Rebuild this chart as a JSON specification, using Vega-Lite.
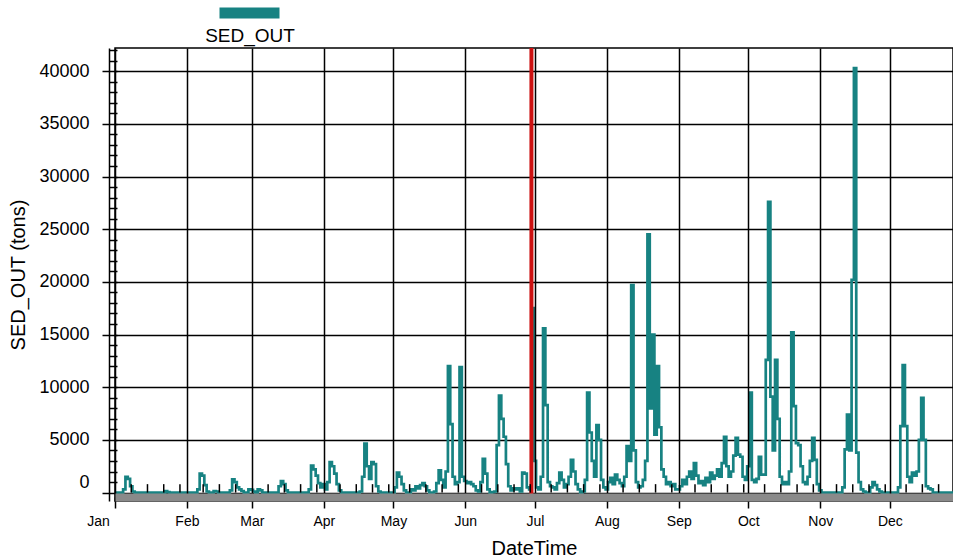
{
  "$schema": "https://vega.github.io/schema/vega-lite/v6.json",
  "width": 838,
  "height": 453,
  "autosize": {"type": "none"},
  "padding": {"left": 115, "top": 48, "right": 0, "bottom": 57},
  "background": "white",
  "config": {
    "view": {"stroke": "#000", "strokeWidth": 1.5},
    "font": "Liberation Sans"
  },
  "datasets": {
    "sed": [
      {"d":"2001-01-01","v":0},{"d":"2001-01-02","v":0},{"d":"2001-01-03","v":0},{"d":"2001-01-04","v":0},{"d":"2001-01-05","v":300},{"d":"2001-01-06","v":1500},{"d":"2001-01-07","v":1300},{"d":"2001-01-08","v":600},{"d":"2001-01-09","v":100},{"d":"2001-01-10","v":0},{"d":"2001-01-11","v":0},{"d":"2001-01-12","v":0},{"d":"2001-01-13","v":0},{"d":"2001-01-14","v":0},{"d":"2001-01-15","v":0},{"d":"2001-01-16","v":0},{"d":"2001-01-17","v":0},{"d":"2001-01-18","v":0},{"d":"2001-01-19","v":0},{"d":"2001-01-20","v":0},{"d":"2001-01-21","v":0},{"d":"2001-01-22","v":0},{"d":"2001-01-23","v":150},{"d":"2001-01-24","v":50},{"d":"2001-01-25","v":0},{"d":"2001-01-26","v":0},{"d":"2001-01-27","v":0},{"d":"2001-01-28","v":0},{"d":"2001-01-29","v":0},{"d":"2001-01-30","v":0},{"d":"2001-01-31","v":0},
      {"d":"2001-02-01","v":0},{"d":"2001-02-02","v":0},{"d":"2001-02-03","v":0},{"d":"2001-02-04","v":0},{"d":"2001-02-05","v":0},{"d":"2001-02-06","v":300},{"d":"2001-02-07","v":1800},{"d":"2001-02-08","v":1600},{"d":"2001-02-09","v":700},{"d":"2001-02-10","v":100},{"d":"2001-02-11","v":0},{"d":"2001-02-12","v":0},{"d":"2001-02-13","v":150},{"d":"2001-02-14","v":100},{"d":"2001-02-15","v":0},{"d":"2001-02-16","v":0},{"d":"2001-02-17","v":0},{"d":"2001-02-18","v":0},{"d":"2001-02-19","v":0},{"d":"2001-02-20","v":200},{"d":"2001-02-21","v":1250},{"d":"2001-02-22","v":1000},{"d":"2001-02-23","v":500},{"d":"2001-02-24","v":300},{"d":"2001-02-25","v":150},{"d":"2001-02-26","v":0},{"d":"2001-02-27","v":0},{"d":"2001-02-28","v":300},
      {"d":"2001-03-01","v":250},{"d":"2001-03-02","v":100},{"d":"2001-03-03","v":0},{"d":"2001-03-04","v":300},{"d":"2001-03-05","v":200},{"d":"2001-03-06","v":0},{"d":"2001-03-07","v":0},{"d":"2001-03-08","v":0},{"d":"2001-03-09","v":0},{"d":"2001-03-10","v":0},{"d":"2001-03-11","v":0},{"d":"2001-03-12","v":0},{"d":"2001-03-13","v":600},{"d":"2001-03-14","v":1100},{"d":"2001-03-15","v":800},{"d":"2001-03-16","v":200},{"d":"2001-03-17","v":0},{"d":"2001-03-18","v":0},{"d":"2001-03-19","v":0},{"d":"2001-03-20","v":0},{"d":"2001-03-21","v":0},{"d":"2001-03-22","v":0},{"d":"2001-03-23","v":0},{"d":"2001-03-24","v":0},{"d":"2001-03-25","v":0},{"d":"2001-03-26","v":300},{"d":"2001-03-27","v":2550},{"d":"2001-03-28","v":2200},{"d":"2001-03-29","v":1600},{"d":"2001-03-30","v":900},{"d":"2001-03-31","v":500},
      {"d":"2001-04-01","v":800},{"d":"2001-04-02","v":300},{"d":"2001-04-03","v":1000},{"d":"2001-04-04","v":2900},{"d":"2001-04-05","v":2500},{"d":"2001-04-06","v":1800},{"d":"2001-04-07","v":800},{"d":"2001-04-08","v":200},{"d":"2001-04-09","v":0},{"d":"2001-04-10","v":0},{"d":"2001-04-11","v":0},{"d":"2001-04-12","v":0},{"d":"2001-04-13","v":0},{"d":"2001-04-14","v":0},{"d":"2001-04-15","v":0},{"d":"2001-04-16","v":0},{"d":"2001-04-17","v":100},{"d":"2001-04-18","v":1500},{"d":"2001-04-19","v":4650},{"d":"2001-04-20","v":2500},{"d":"2001-04-21","v":1300},{"d":"2001-04-22","v":2900},{"d":"2001-04-23","v":2700},{"d":"2001-04-24","v":600},{"d":"2001-04-25","v":100},{"d":"2001-04-26","v":0},{"d":"2001-04-27","v":0},{"d":"2001-04-28","v":0},{"d":"2001-04-29","v":0},{"d":"2001-04-30","v":0},
      {"d":"2001-05-01","v":0},{"d":"2001-05-02","v":500},{"d":"2001-05-03","v":1900},{"d":"2001-05-04","v":1500},{"d":"2001-05-05","v":800},{"d":"2001-05-06","v":200},{"d":"2001-05-07","v":0},{"d":"2001-05-08","v":0},{"d":"2001-05-09","v":300},{"d":"2001-05-10","v":200},{"d":"2001-05-11","v":600},{"d":"2001-05-12","v":400},{"d":"2001-05-13","v":700},{"d":"2001-05-14","v":900},{"d":"2001-05-15","v":600},{"d":"2001-05-16","v":200},{"d":"2001-05-17","v":0},{"d":"2001-05-18","v":0},{"d":"2001-05-19","v":100},{"d":"2001-05-20","v":900},{"d":"2001-05-21","v":2100},{"d":"2001-05-22","v":1200},{"d":"2001-05-23","v":500},{"d":"2001-05-24","v":2000},{"d":"2001-05-25","v":12000},{"d":"2001-05-26","v":6500},{"d":"2001-05-27","v":1500},{"d":"2001-05-28","v":800},{"d":"2001-05-29","v":1000},{"d":"2001-05-30","v":11900},{"d":"2001-05-31","v":1500},
      {"d":"2001-06-01","v":1100},{"d":"2001-06-02","v":900},{"d":"2001-06-03","v":1000},{"d":"2001-06-04","v":800},{"d":"2001-06-05","v":600},{"d":"2001-06-06","v":200},{"d":"2001-06-07","v":100},{"d":"2001-06-08","v":1000},{"d":"2001-06-09","v":3200},{"d":"2001-06-10","v":1800},{"d":"2001-06-11","v":300},{"d":"2001-06-12","v":0},{"d":"2001-06-13","v":50},{"d":"2001-06-14","v":100},{"d":"2001-06-15","v":4500},{"d":"2001-06-16","v":9200},{"d":"2001-06-17","v":7000},{"d":"2001-06-18","v":5300},{"d":"2001-06-19","v":2700},{"d":"2001-06-20","v":600},{"d":"2001-06-21","v":200},{"d":"2001-06-22","v":400},{"d":"2001-06-23","v":300},{"d":"2001-06-24","v":400},{"d":"2001-06-25","v":100},{"d":"2001-06-26","v":1900},{"d":"2001-06-27","v":1800},{"d":"2001-06-28","v":500},{"d":"2001-06-29","v":300},{"d":"2001-06-30","v":17500},
      {"d":"2001-07-01","v":3000},{"d":"2001-07-02","v":500},{"d":"2001-07-03","v":300},{"d":"2001-07-04","v":1500},{"d":"2001-07-05","v":15600},{"d":"2001-07-06","v":8300},{"d":"2001-07-07","v":1000},{"d":"2001-07-08","v":600},{"d":"2001-07-09","v":500},{"d":"2001-07-10","v":300},{"d":"2001-07-11","v":900},{"d":"2001-07-12","v":1900},{"d":"2001-07-13","v":1200},{"d":"2001-07-14","v":500},{"d":"2001-07-15","v":800},{"d":"2001-07-16","v":1500},{"d":"2001-07-17","v":3100},{"d":"2001-07-18","v":2000},{"d":"2001-07-19","v":800},{"d":"2001-07-20","v":300},{"d":"2001-07-21","v":0},{"d":"2001-07-22","v":100},{"d":"2001-07-23","v":1200},{"d":"2001-07-24","v":9500},{"d":"2001-07-25","v":5700},{"d":"2001-07-26","v":3000},{"d":"2001-07-27","v":1500},{"d":"2001-07-28","v":6400},{"d":"2001-07-29","v":5000},{"d":"2001-07-30","v":1200},{"d":"2001-07-31","v":500},
      {"d":"2001-08-01","v":300},{"d":"2001-08-02","v":1000},{"d":"2001-08-03","v":1400},{"d":"2001-08-04","v":800},{"d":"2001-08-05","v":1700},{"d":"2001-08-06","v":1200},{"d":"2001-08-07","v":900},{"d":"2001-08-08","v":600},{"d":"2001-08-09","v":1500},{"d":"2001-08-10","v":4400},{"d":"2001-08-11","v":3000},{"d":"2001-08-12","v":19700},{"d":"2001-08-13","v":4000},{"d":"2001-08-14","v":1000},{"d":"2001-08-15","v":500},{"d":"2001-08-16","v":600},{"d":"2001-08-17","v":1200},{"d":"2001-08-18","v":3000},{"d":"2001-08-19","v":24500},{"d":"2001-08-20","v":8000},{"d":"2001-08-21","v":15000},{"d":"2001-08-22","v":5500},{"d":"2001-08-23","v":12000},{"d":"2001-08-24","v":6200},{"d":"2001-08-25","v":2200},{"d":"2001-08-26","v":1500},{"d":"2001-08-27","v":800},{"d":"2001-08-28","v":1000},{"d":"2001-08-29","v":600},{"d":"2001-08-30","v":800},{"d":"2001-08-31","v":300},
      {"d":"2001-09-01","v":300},{"d":"2001-09-02","v":600},{"d":"2001-09-03","v":1200},{"d":"2001-09-04","v":800},{"d":"2001-09-05","v":1500},{"d":"2001-09-06","v":2000},{"d":"2001-09-07","v":1300},{"d":"2001-09-08","v":2800},{"d":"2001-09-09","v":1600},{"d":"2001-09-10","v":900},{"d":"2001-09-11","v":1100},{"d":"2001-09-12","v":700},{"d":"2001-09-13","v":1400},{"d":"2001-09-14","v":1000},{"d":"2001-09-15","v":1900},{"d":"2001-09-16","v":1300},{"d":"2001-09-17","v":1600},{"d":"2001-09-18","v":2200},{"d":"2001-09-19","v":1500},{"d":"2001-09-20","v":2800},{"d":"2001-09-21","v":5300},{"d":"2001-09-22","v":2500},{"d":"2001-09-23","v":1500},{"d":"2001-09-24","v":2000},{"d":"2001-09-25","v":3500},{"d":"2001-09-26","v":5200},{"d":"2001-09-27","v":3600},{"d":"2001-09-28","v":3400},{"d":"2001-09-29","v":1500},{"d":"2001-09-30","v":1200},
      {"d":"2001-10-01","v":2500},{"d":"2001-10-02","v":9500},{"d":"2001-10-03","v":1200},{"d":"2001-10-04","v":1000},{"d":"2001-10-05","v":1300},{"d":"2001-10-06","v":3400},{"d":"2001-10-07","v":1700},{"d":"2001-10-08","v":1700},{"d":"2001-10-09","v":12600},{"d":"2001-10-10","v":27600},{"d":"2001-10-11","v":9100},{"d":"2001-10-12","v":4000},{"d":"2001-10-13","v":12600},{"d":"2001-10-14","v":7000},{"d":"2001-10-15","v":1500},{"d":"2001-10-16","v":800},{"d":"2001-10-17","v":1000},{"d":"2001-10-18","v":800},{"d":"2001-10-19","v":2000},{"d":"2001-10-20","v":15200},{"d":"2001-10-21","v":8200},{"d":"2001-10-22","v":4700},{"d":"2001-10-23","v":4500},{"d":"2001-10-24","v":2500},{"d":"2001-10-25","v":1000},{"d":"2001-10-26","v":800},{"d":"2001-10-27","v":1500},{"d":"2001-10-28","v":3000},{"d":"2001-10-29","v":5200},{"d":"2001-10-30","v":3100},{"d":"2001-10-31","v":800},
      {"d":"2001-11-01","v":200},{"d":"2001-11-02","v":0},{"d":"2001-11-03","v":0},{"d":"2001-11-04","v":0},{"d":"2001-11-05","v":0},{"d":"2001-11-06","v":0},{"d":"2001-11-07","v":0},{"d":"2001-11-08","v":0},{"d":"2001-11-09","v":0},{"d":"2001-11-10","v":0},{"d":"2001-11-11","v":500},{"d":"2001-11-12","v":4100},{"d":"2001-11-13","v":7400},{"d":"2001-11-14","v":4000},{"d":"2001-11-15","v":20200},{"d":"2001-11-16","v":40300},{"d":"2001-11-17","v":3800},{"d":"2001-11-18","v":1000},{"d":"2001-11-19","v":300},{"d":"2001-11-20","v":100},{"d":"2001-11-21","v":0},{"d":"2001-11-22","v":0},{"d":"2001-11-23","v":500},{"d":"2001-11-24","v":1000},{"d":"2001-11-25","v":700},{"d":"2001-11-26","v":300},{"d":"2001-11-27","v":100},{"d":"2001-11-28","v":0},{"d":"2001-11-29","v":0},{"d":"2001-11-30","v":0},
      {"d":"2001-12-01","v":0},{"d":"2001-12-02","v":0},{"d":"2001-12-03","v":0},{"d":"2001-12-04","v":0},{"d":"2001-12-05","v":500},{"d":"2001-12-06","v":6300},{"d":"2001-12-07","v":12100},{"d":"2001-12-08","v":6300},{"d":"2001-12-09","v":1500},{"d":"2001-12-10","v":1000},{"d":"2001-12-11","v":1900},{"d":"2001-12-12","v":1600},{"d":"2001-12-13","v":2000},{"d":"2001-12-14","v":5000},{"d":"2001-12-15","v":9000},{"d":"2001-12-16","v":5000},{"d":"2001-12-17","v":600},{"d":"2001-12-18","v":400},{"d":"2001-12-19","v":300},{"d":"2001-12-20","v":0},{"d":"2001-12-21","v":0},{"d":"2001-12-22","v":0},{"d":"2001-12-23","v":0},{"d":"2001-12-24","v":0},{"d":"2001-12-25","v":0},{"d":"2001-12-26","v":0},{"d":"2001-12-27","v":0},{"d":"2001-12-28","v":0},{"d":"2001-12-29","v":0},{"d":"2001-12-30","v":0},{"d":"2001-12-31","v":0}
    ],
    "minor": [
      {"d":"2001-01-08"},{"d":"2001-01-15"},{"d":"2001-01-22"},{"d":"2001-01-29"},
      {"d":"2001-02-08"},{"d":"2001-02-15"},{"d":"2001-02-22"},
      {"d":"2001-03-08"},{"d":"2001-03-15"},{"d":"2001-03-22"},{"d":"2001-03-29"},
      {"d":"2001-04-08"},{"d":"2001-04-15"},{"d":"2001-04-22"},{"d":"2001-04-29"},
      {"d":"2001-05-08"},{"d":"2001-05-15"},{"d":"2001-05-22"},{"d":"2001-05-29"},
      {"d":"2001-06-08"},{"d":"2001-06-15"},{"d":"2001-06-22"},{"d":"2001-06-29"},
      {"d":"2001-07-08"},{"d":"2001-07-15"},{"d":"2001-07-22"},{"d":"2001-07-29"},
      {"d":"2001-08-08"},{"d":"2001-08-15"},{"d":"2001-08-22"},{"d":"2001-08-29"},
      {"d":"2001-09-08"},{"d":"2001-09-15"},{"d":"2001-09-22"},{"d":"2001-09-29"},
      {"d":"2001-10-08"},{"d":"2001-10-15"},{"d":"2001-10-22"},{"d":"2001-10-29"},
      {"d":"2001-11-08"},{"d":"2001-11-15"},{"d":"2001-11-22"},{"d":"2001-11-29"},
      {"d":"2001-12-08"},{"d":"2001-12-15"},{"d":"2001-12-22"}
    ],
    "marker": [{"d":"2001-06-29T12:00:00Z"}]
  },
  "encoding": {
    "x": {
      "field": "d", "type": "temporal",
      "scale": {"type": "utc", "domain": [978307200000, 1009515600000]},
      "axis": {
        "orient": "bottom",
        "values": [978307200000, 980985600000, 983404800000, 986083200000, 988675200000, 991353600000, 993945600000, 996624000000, 999302400000, 1001894400000, 1004572800000, 1007164800000],
        "labelExpr": "utcFormat(datum.value, '%b')",
        "offset": -4,
        "tickSize": 11, "tickWidth": 1.5, "tickColor": "#000",
        "domainColor": "#8a8a8a", "domainWidth": 8,
        "grid": true, "gridColor": "#000", "gridWidth": 1.5, "gridOpacity": 1,
        "labelFontSize": 14, "labelColor": "#000", "labelPadding": 6,
        "labelFlush": false, "labelOverlap": false, "labelBound": false,
        "labelOffset": {"condition": {"test": "utcmonth(datum.value) === 0", "value": -17}, "value": 0},
        "title": "DateTime", "titleFontSize": 20, "titleFontWeight": "normal", "titleColor": "#000", "titlePadding": 10,
        "zindex": 1
      }
    }
  },
  "layer": [
    {
      "data": {"name": "sed"},
      "mark": {"type": "line", "interpolate": "step", "strokeWidth": 2.7, "clip": true},
      "encoding": {
        "y": {
          "field": "v", "type": "quantitative",
          "scale": {"domain": [-800, 42200], "nice": false, "zero": false},
          "axis": {
            "orient": "left",
            "values": [0, 5000, 10000, 15000, 20000, 25000, 30000, 35000, 40000],
            "format": "d",
            "offset": 6,
            "tickSize": 7, "tickWidth": 1.5, "tickColor": "#000",
            "domainColor": "#000", "domainWidth": 1.5,
            "grid": true, "gridColor": "#000", "gridWidth": 1.5, "gridOpacity": 1,
            "labelFontSize": 18, "labelColor": "#000", "labelPadding": 13,
            "labelOffset": {"condition": {"test": "datum.value === 0", "value": -10}, "value": 0},
            "title": "SED_OUT (tons)", "titleFontSize": 20, "titleFontWeight": "normal", "titleColor": "#000", "titlePadding": 10
          }
        },
        "color": {
          "datum": "SED_OUT",
          "scale": {"range": ["#178282"]},
          "legend": {
            "orient": "none", "legendX": 83, "legendY": -70.5,
            "title": "SED_OUT", "titleOrient": "bottom", "titleAnchor": "middle",
            "titleFontSize": 19, "titleFontWeight": "normal", "titleColor": "#000", "titlePadding": -8.5,
            "labelExpr": "''", "labelOffset": 0,
            "symbolType": "M-1,0H1", "symbolSize": 3600, "symbolStrokeWidth": 11,
            "symbolOffset": 16, "padding": 0
          }
        }
      }
    },
    {
      "data": {"name": "marker"},
      "mark": {"type": "rule", "color": "#cc1111", "strokeWidth": 4}
    },
    {
      "data": {"name": "minor"},
      "mark": {"type": "rule", "color": "#000", "strokeWidth": 1.5},
      "encoding": {
        "y": {
          "datum": 0, "type": "quantitative",
          "axis": {
            "orient": "left",
            "values": [0,1000,2000,3000,4000,5000,6000,7000,8000,9000,10000,11000,12000,13000,14000,15000,16000,17000,18000,19000,20000,21000,22000,23000,24000,25000,26000,27000,28000,29000,30000,31000,32000,33000,34000,35000,36000,37000,38000,39000,40000,41000,42000],
            "offset": -2, "tickSize": 8, "tickWidth": 1.5, "tickColor": "#000",
            "labels": false, "domain": false, "grid": false, "title": null
          }
        },
        "y2": {"datum": 800}
      }
    }
  ],
  "resolve": {"axis": {"y": "independent"}}
}
